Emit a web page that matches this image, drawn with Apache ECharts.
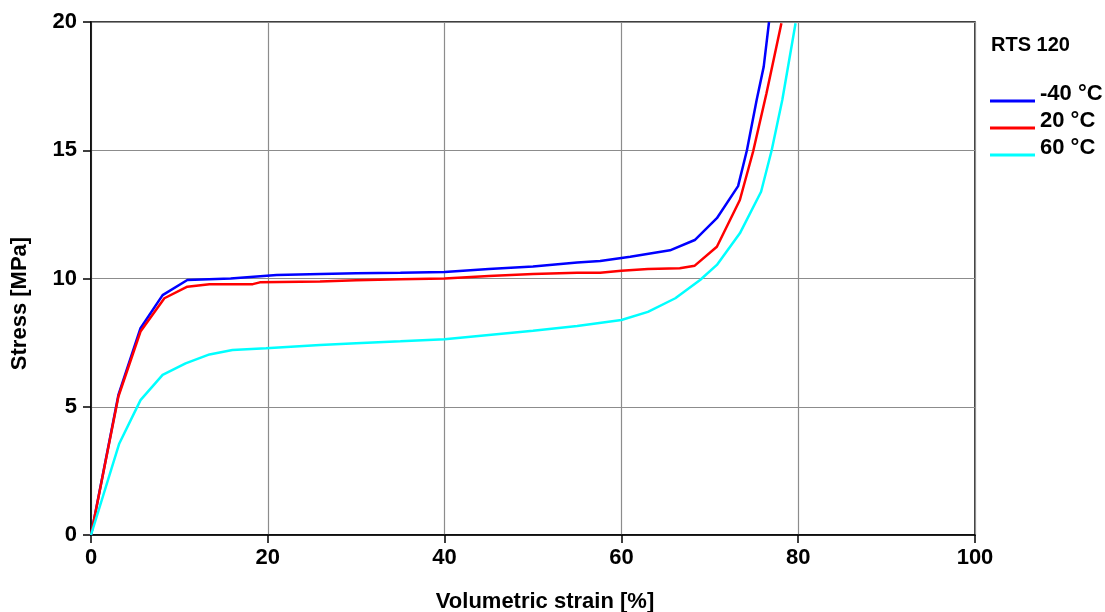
<!DOCTYPE html>
<html>
<head>
<meta charset="utf-8">
<script src="https://cdn.jsdelivr.net/npm/echarts@6/dist/echarts.min.js"></script>
<style>
html,body{margin:0;padding:0;background:#fff;}
#main{width:1105px;height:612px;}
</style>
</head>
<body>
<div id="main"></div>
<script>
// RTS 120 - stress vs volumetric strain
var seriesNames = ['-40 °C', '20 °C', '60 °C'];

var blueX = [0, 3.1, 5.6, 8.1, 10.9, 15.8, 21, 26, 30, 35, 40, 45, 50, 55, 57.6, 61, 65.5, 68.3, 70.8, 73.2, 74.2, 75.3, 76.1, 76.7];
var blueY = [0, 5.46, 8.06, 9.35, 9.94, 10.0, 10.14, 10.18, 10.2, 10.22, 10.25, 10.37, 10.47, 10.62, 10.68, 10.85, 11.1, 11.5, 12.35, 13.6, 15.0, 16.96, 18.26, 20];

var redX = [0, 3.1, 5.6, 8.3, 10.9, 13.4, 18.3, 19.1, 25.9, 30, 35, 40, 45, 50, 55, 57.6, 60, 63, 66.6, 68.3, 70.8, 73.4, 74.9, 76.4, 78.1];
var redY = [0, 5.4, 7.93, 9.23, 9.68, 9.78, 9.78, 9.85, 9.88, 9.93, 9.97, 10.0, 10.1, 10.18, 10.22, 10.22, 10.3, 10.37, 10.4, 10.5, 11.24, 13.06, 14.95, 17.2, 19.95];

var cyanX = [0, 3.2, 5.6, 8.1, 10.7, 13.4, 16, 19.8, 25.9, 30, 35, 40, 45, 50, 55, 60, 63, 66.1, 68.9, 70.8, 73.4, 75.8, 77, 78.2, 79.7];
var cyanY = [0, 3.57, 5.26, 6.24, 6.69, 7.04, 7.21, 7.28, 7.41, 7.48, 7.55, 7.63, 7.8, 7.96, 8.15, 8.38, 8.7, 9.23, 9.94, 10.53, 11.76, 13.38, 15.0, 16.96, 19.95];

var xTicks = [0, 20, 40, 60, 80, 100];
var yTicks = [0, 5, 10, 15, 20];

function pairs(xs, ys) {
	var out = [];
	for (var i = 0; i < xs.length; i++) out.push([xs[i], ys[i]]);
	return out;
}

var colors = ['#0000ff', '#ff0000', '#00ffff'];
var allData = [pairs(blueX, blueY), pairs(redX, redY), pairs(cyanX, cyanY)];

var myChart = echarts.init(document.getElementById('main'));
var fam = 'Liberation Sans, Arial, sans-serif';
var labelFont = {fontFamily: fam, fontWeight: 'bold', fontSize: 22, color: '#000'};

// legend line sits at the bottom of the icon box so the text rides above it
var legendIcon = 'path://M0,0 M0,14 L45,14 L45,17 L0,17 Z';

var option = {
	animation: false,
	backgroundColor: '#fff',
	title: {
		text: 'RTS 120',
		left: 986, top: 30,
		textStyle: {fontFamily: fam, fontWeight: 'bold', fontSize: 20, color: '#000'}
	},
	legend: {
		orient: 'vertical',
		left: 990, top: 83,
		padding: 0,
		itemWidth: 45, itemHeight: 17,
		itemGap: 5,
		icon: legendIcon,
		textStyle: {fontFamily: fam, fontWeight: 'bold', fontSize: 22, lineHeight: 17, color: '#000'},
		data: seriesNames
	},
	grid: {
		left: 91, right: 130, top: 22, bottom: 77,
		outerBoundsMode: 'none',
		show: true, borderColor: '#000', borderWidth: 1.5
	},
	xAxis: {
		type: 'value',
		min: xTicks[0], max: xTicks[xTicks.length - 1], interval: 20,
		name: 'Volumetric strain [%]',
		nameLocation: 'middle', nameGap: 56,
		nameTextStyle: Object.assign({padding: [0, 0, 0, 24]}, labelFont),
		axisLine: {lineStyle: {color: '#000', width: 1.5}},
		axisTick: {length: 8, lineStyle: {color: '#000', width: 1.5}},
		axisLabel: Object.assign({margin: 12}, labelFont),
		splitLine: {lineStyle: {color: '#8c8c8c', width: 1.2}}
	},
	yAxis: {
		type: 'value',
		min: yTicks[0], max: yTicks[yTicks.length - 1], interval: 5,
		name: 'Stress [MPa]',
		nameLocation: 'middle', nameGap: 60,
		nameTextStyle: Object.assign({padding: [0, 50, 0, 0]}, labelFont),
		axisLine: {lineStyle: {color: '#000', width: 1.5}},
		axisTick: {length: 8, lineStyle: {color: '#000', width: 1.5}},
		axisLabel: Object.assign({margin: 14}, labelFont),
		splitLine: {lineStyle: {color: '#8c8c8c', width: 1.2}}
	},
	series: seriesNames.map(function(n, i) {
		return {
			name: n,
			type: 'line',
			data: allData[i],
			showSymbol: false,
			color: colors[i],
			lineStyle: {width: 2.5, color: colors[i]},
			clip: true
		};
	})
};
myChart.setOption(option);
</script>
</body>
</html>
